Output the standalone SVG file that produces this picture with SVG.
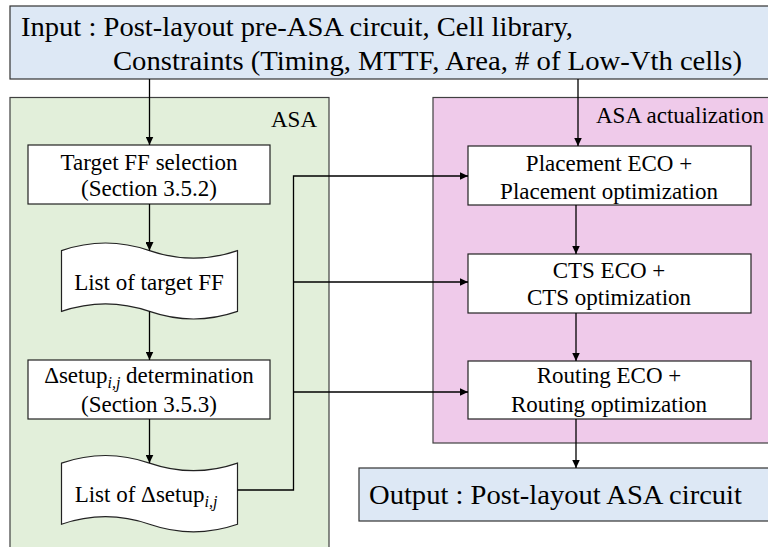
<svg xmlns="http://www.w3.org/2000/svg" width="768" height="547" viewBox="0 0 768 547" font-family="'Liberation Serif', 'DejaVu Serif', serif">
  <style>
    text { font-family: 'Liberation Serif', 'DejaVu Serif', serif; fill: #000; }
    .io { fill: #dde8f5; stroke: #333; stroke-width: 1.2; }
    .grp-asa { fill: #e2efda; stroke: #404040; stroke-width: 1.2; }
    .grp-act { fill: #efcaea; stroke: #404040; stroke-width: 1.2; }
    .box { fill: #fff; stroke: #222; stroke-width: 1.2; }
    .big { font-size: 28px; }
    .lbl { font-size: 23px; }
    .sub { font-size: 16px; font-style: italic; }
    .wire { fill: none; stroke: #000; stroke-width: 1.3; }
  </style>
  <defs>
    <marker id="arrow" markerUnits="userSpaceOnUse" markerWidth="9" markerHeight="8" refX="8.5" refY="4" orient="auto">
      <path d="M0,0 L8.5,4 L0,8 z" fill="#000"/>
    </marker>
  </defs>

  <rect width="768" height="547" fill="#fff"/>

  <!-- input box -->
  <g id="input">
    <rect class="io" x="10" y="6" width="770" height="73"/>
    <text class="big" x="21" y="36" textLength="552" lengthAdjust="spacingAndGlyphs">Input : Post-layout pre-ASA circuit, Cell library,</text>
    <text class="big" x="113" y="70" textLength="629" lengthAdjust="spacingAndGlyphs">Constraints (Timing, MTTF, Area, # of Low-Vth cells)</text>
  </g>

  <!-- ASA group -->
  <g id="asa">
    <rect class="grp-asa" x="10" y="97.5" width="319" height="460"/>
    <text class="lbl" x="317" y="127" text-anchor="end">ASA</text>
  </g>

  <!-- ASA actualization group -->
  <g id="asa-actualization">
    <rect class="grp-act" x="433" y="97.5" width="345" height="345.5"/>
    <text class="lbl" x="764" y="123" text-anchor="end">ASA actualization</text>
  </g>

  <!-- ASA steps -->
  <g id="target-ff-selection">
    <rect class="box" x="28" y="145" width="242" height="59"/>
    <text class="lbl" x="149" y="170" text-anchor="middle">Target FF selection</text>
    <text class="lbl" x="149" y="196" text-anchor="middle">(Section 3.5.2)</text>
  </g>

  <g id="list-target-ff">
    <path class="box" d="M61.5,250.6 Q105.5,235.4 149.5,250.6 Q193.5,265.8 237.5,250.6 L237.5,311.4 Q193.5,326.6 149.5,311.4 Q105.5,296.2 61.5,311.4 Z"/>
    <text class="lbl" x="149" y="290" text-anchor="middle">List of target FF</text>
  </g>

  <g id="delta-setup-determination">
    <rect class="box" x="28" y="360" width="242" height="59"/>
    <text class="lbl" x="149" y="383" text-anchor="middle">Δsetup<tspan class="sub" dy="5">i,j</tspan><tspan dy="-5"> determination</tspan></text>
    <text class="lbl" x="149" y="412" text-anchor="middle">(Section 3.5.3)</text>
  </g>

  <g id="list-delta-setup">
    <path class="box" d="M61.5,463.1 Q105.5,447.9 149.5,463.1 Q193.5,478.3 237.5,463.1 L237.5,524.3 Q193.5,539.5 149.5,524.3 Q105.5,509.1 61.5,524.3 Z"/>
    <text class="lbl" x="146" y="502" text-anchor="middle">List of  Δsetup<tspan class="sub" dy="5">i,j</tspan></text>
  </g>

  <!-- actualization steps -->
  <g id="placement">
    <rect class="box" x="468" y="146" width="283" height="59"/>
    <text class="lbl" x="609" y="171" text-anchor="middle">Placement ECO +</text>
    <text class="lbl" x="609" y="199" text-anchor="middle">Placement optimization</text>
  </g>

  <g id="cts">
    <rect class="box" x="468" y="254" width="283" height="59"/>
    <text class="lbl" x="609" y="278" text-anchor="middle">CTS ECO +</text>
    <text class="lbl" x="609" y="305" text-anchor="middle">CTS optimization</text>
  </g>

  <g id="routing">
    <rect class="box" x="468" y="361" width="283" height="58"/>
    <text class="lbl" x="609" y="383" text-anchor="middle">Routing ECO +</text>
    <text class="lbl" x="609" y="412" text-anchor="middle">Routing optimization</text>
  </g>

  <!-- output box -->
  <g id="output">
    <rect class="io" x="359" y="468" width="420" height="53"/>
    <text class="big" x="369" y="504" textLength="373" lengthAdjust="spacingAndGlyphs">Output : Post-layout ASA circuit</text>
  </g>

  <!-- connectors -->
  <g id="connectors">
    <line class="wire" x1="149.5" y1="79" x2="149.5" y2="145" marker-end="url(#arrow)"/>
    <line class="wire" x1="578" y1="79" x2="578" y2="146" marker-end="url(#arrow)"/>
    <line class="wire" x1="149.5" y1="204" x2="149.5" y2="250.6" marker-end="url(#arrow)"/>
    <line class="wire" x1="149.5" y1="311.4" x2="149.5" y2="360" marker-end="url(#arrow)"/>
    <line class="wire" x1="149.5" y1="419" x2="149.5" y2="463.1" marker-end="url(#arrow)"/>
    <polyline class="wire" points="237.5,490 293.5,490 293.5,176 468,176" marker-end="url(#arrow)"/>
    <line class="wire" x1="293.5" y1="282" x2="468" y2="282" marker-end="url(#arrow)"/>
    <line class="wire" x1="293.5" y1="392" x2="468" y2="392" marker-end="url(#arrow)"/>
    <line class="wire" x1="576" y1="205" x2="576" y2="254" marker-end="url(#arrow)"/>
    <line class="wire" x1="576" y1="313" x2="576" y2="361" marker-end="url(#arrow)"/>
    <line class="wire" x1="576" y1="419" x2="576" y2="468" marker-end="url(#arrow)"/>
  </g>
</svg>
